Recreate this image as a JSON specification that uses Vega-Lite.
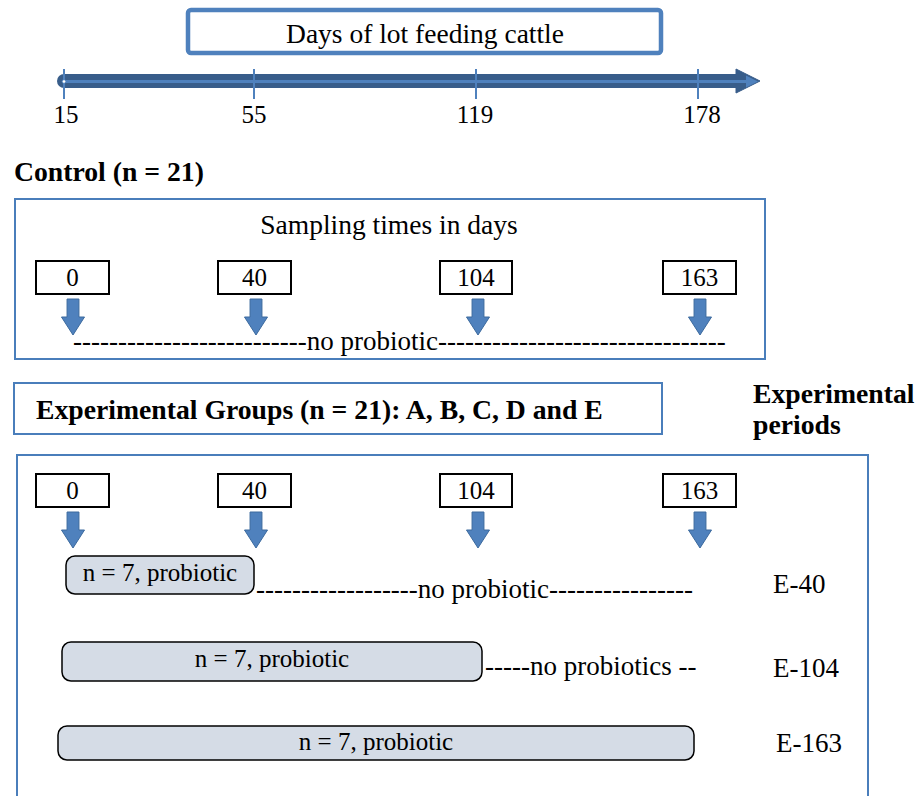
{
  "$schema": "https://vega.github.io/schema/vega-lite/v6.json",
  "width": 918,
  "height": 796,
  "padding": 0,
  "autosize": {"type": "none"},
  "background": "white",
  "config": {"view": {"stroke": null}},
  "datasets": {
    "titleBox": [{"x": 188, "x2": 661, "y": 10, "y2": 53}],
    "sections": [
      {"x": 15, "x2": 765, "y": 199, "y2": 359},
      {"x": 14, "x2": 662, "y": 383, "y2": 434},
      {"x": 17, "x2": 868, "y": 455, "y2": 812}
    ],
    "numBoxes": [
      {"x": 36, "x2": 109, "y": 261, "y2": 294},
      {"x": 218, "x2": 291, "y": 261, "y2": 294},
      {"x": 440, "x2": 512, "y": 261, "y2": 294},
      {"x": 663, "x2": 736, "y": 261, "y2": 294},
      {"x": 36, "x2": 109, "y": 474, "y2": 507},
      {"x": 218, "x2": 291, "y": 474, "y2": 507},
      {"x": 440, "x2": 512, "y": 474, "y2": 507},
      {"x": 663, "x2": 736, "y": 474, "y2": 507}
    ],
    "bars": [
      {"x": 66, "x2": 254, "y": 556, "y2": 594},
      {"x": 62, "x2": 482, "y": 642, "y2": 681},
      {"x": 58, "x2": 694, "y": 726, "y2": 760}
    ],
    "band": [{"x": 64, "x2": 742, "y": 81, "y2": 81}],
    "inner": [{"x": 64, "x2": 748, "y": 81.5, "y2": 81.5}],
    "ticks": [
      {"x": 64, "x2": 64, "y": 69, "y2": 99},
      {"x": 254, "x2": 254, "y": 69, "y2": 99},
      {"x": 476, "x2": 476, "y": 69, "y2": 99},
      {"x": 698, "x2": 698, "y": 69, "y2": 99}
    ],
    "head": [{"x": 748, "y": 81}],
    "headInner": [{"x": 752, "y": 81.5}],
    "dot": [{"x": 64, "y": 81.5}],
    "arrows": [
      {"x": 73, "y": 317}, {"x": 256, "y": 317}, {"x": 478, "y": 317}, {"x": 700, "y": 317},
      {"x": 73, "y": 530}, {"x": 256, "y": 530}, {"x": 478, "y": 530}, {"x": 700, "y": 530}
    ],
    "textC27": [
      {"x": 425, "y": 43, "label": "Days of lot feeding cattle"},
      {"x": 389, "y": 234, "label": "Sampling times in days"}
    ],
    "textC25": [
      {"x": 66, "y": 123, "label": "15"},
      {"x": 254, "y": 123, "label": "55"},
      {"x": 475, "y": 123, "label": "119"},
      {"x": 702, "y": 123, "label": "178"},
      {"x": 72.5, "y": 286, "label": "0"},
      {"x": 254.5, "y": 286, "label": "40"},
      {"x": 476, "y": 286, "label": "104"},
      {"x": 699.5, "y": 286, "label": "163"},
      {"x": 72.5, "y": 499, "label": "0"},
      {"x": 254.5, "y": 499, "label": "40"},
      {"x": 476, "y": 499, "label": "104"},
      {"x": 699.5, "y": 499, "label": "163"},
      {"x": 160, "y": 581, "label": "n = 7, probiotic"},
      {"x": 272, "y": 667, "label": "n = 7, probiotic"},
      {"x": 376, "y": 750, "label": "n = 7, probiotic"}
    ],
    "textL27": [
      {"x": 73, "y": 350, "label": "--------------------------no probiotic--------------------------------"},
      {"x": 256, "y": 598, "label": "------------------no probiotic----------------"},
      {"x": 485, "y": 675, "label": "-----no probiotics --"},
      {"x": 773, "y": 593, "label": "E-40"},
      {"x": 773, "y": 677, "label": "E-104"},
      {"x": 776, "y": 752, "label": "E-163"}
    ],
    "textBold": [
      {"x": 14, "y": 181, "label": "Control (n = 21)"},
      {"x": 36, "y": 419, "label": "Experimental Groups (n = 21): A, B, C, D and E"},
      {"x": 753, "y": 403, "label": "Experimental"},
      {"x": 753, "y": 434, "label": "periods"}
    ]
  },
  "encoding": {
    "x": {"field": "x", "type": "quantitative", "scale": {"domain": [0, 918], "nice": false, "zero": false}, "axis": null},
    "y": {"field": "y", "type": "quantitative", "scale": {"domain": [0, 796], "reverse": true, "nice": false, "zero": false}, "axis": null}
  },
  "layer": [
    {
      "data": {"name": "titleBox"},
      "mark": {"type": "rect", "fill": "white", "stroke": "#4F81BD", "strokeWidth": 4.5, "cornerRadius": 3},
      "encoding": {"x2": {"field": "x2"}, "y2": {"field": "y2"}}
    },
    {
      "data": {"name": "sections"},
      "mark": {"type": "rect", "fill": null, "fillOpacity": 0, "stroke": "#4A7EBB", "strokeWidth": 2},
      "encoding": {"x2": {"field": "x2"}, "y2": {"field": "y2"}}
    },
    {
      "data": {"name": "numBoxes"},
      "mark": {"type": "rect", "fill": "white", "stroke": "black", "strokeWidth": 2},
      "encoding": {"x2": {"field": "x2"}, "y2": {"field": "y2"}}
    },
    {
      "data": {"name": "bars"},
      "mark": {"type": "rect", "fill": "#D5DCE6", "stroke": "black", "strokeWidth": 1.5, "cornerRadius": 9},
      "encoding": {"x2": {"field": "x2"}, "y2": {"field": "y2"}}
    },
    {
      "data": {"name": "band"},
      "mark": {"type": "rule", "stroke": "#385D8A", "strokeWidth": 14, "strokeCap": "round"},
      "encoding": {"x2": {"field": "x2"}, "y2": {"field": "y2"}}
    },
    {
      "data": {"name": "head"},
      "mark": {"type": "point", "shape": "M-1,-1L1,0L-1,1Z", "filled": true, "fill": "#385D8A", "stroke": "#385D8A", "strokeWidth": 1, "size": 576, "opacity": 1},
      "encoding": {}
    },
    {
      "data": {"name": "inner"},
      "mark": {"type": "rule", "stroke": "#4F81BD", "strokeWidth": 3},
      "encoding": {"x2": {"field": "x2"}, "y2": {"field": "y2"}}
    },
    {
      "data": {"name": "headInner"},
      "mark": {"type": "point", "shape": "M-1,-1L1,0L-1,1Z", "filled": true, "fill": "#4F81BD", "size": 144, "opacity": 1},
      "encoding": {}
    },
    {
      "data": {"name": "ticks"},
      "mark": {"type": "rule", "stroke": "#4F81BD", "strokeWidth": 2},
      "encoding": {"x2": {"field": "x2"}, "y2": {"field": "y2"}}
    },
    {
      "data": {"name": "dot"},
      "mark": {"type": "point", "shape": "circle", "filled": true, "fill": "white", "stroke": "#4F81BD", "strokeWidth": 1, "size": 14, "opacity": 1},
      "encoding": {}
    },
    {
      "data": {"name": "arrows"},
      "mark": {"type": "point", "shape": "M-0.33,-1L0.33,-1L0.33,0L0.64,0L0,1L-0.64,0L-0.33,0Z", "filled": true, "fill": "#4F81BD", "stroke": "#3C6A9E", "strokeWidth": 1, "size": 1296, "opacity": 1},
      "encoding": {}
    },
    {
      "data": {"name": "textC27"},
      "mark": {"type": "text", "font": "Liberation Serif", "fontSize": 27.5, "align": "center", "baseline": "alphabetic", "color": "black"},
      "encoding": {"text": {"field": "label"}}
    },
    {
      "data": {"name": "textC25"},
      "mark": {"type": "text", "font": "Liberation Serif", "fontSize": 25, "align": "center", "baseline": "alphabetic", "color": "black"},
      "encoding": {"text": {"field": "label"}}
    },
    {
      "data": {"name": "textL27"},
      "mark": {"type": "text", "font": "Liberation Serif", "fontSize": 27, "align": "left", "baseline": "alphabetic", "color": "black"},
      "encoding": {"text": {"field": "label"}}
    },
    {
      "data": {"name": "textBold"},
      "mark": {"type": "text", "font": "Liberation Serif", "fontSize": 27.7, "fontWeight": "bold", "align": "left", "baseline": "alphabetic", "color": "black"},
      "encoding": {"text": {"field": "label"}}
    }
  ]
}
